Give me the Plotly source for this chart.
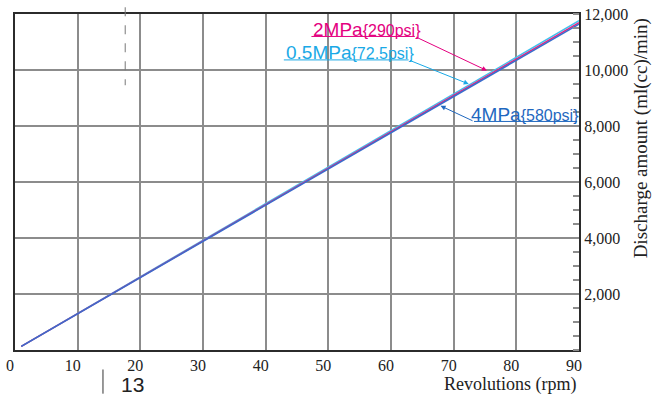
import plotly.graph_objects as go

# ---- data ----
rpm = [1, 90]
q_05mpa = [133, 11760]   # 0.5MPa{72.5psi}
q_2mpa = [130, 11690]    # 2MPa{290psi}
q_4mpa = [130, 11640]    # 4MPa{580psi}
x_ticks = [0, 10, 20, 30, 40, 50, 60, 70, 80, 90]
y_ticks = [2000, 4000, 6000, 8000, 10000, 12000]
y_ticktext = ["2,000", "4,000", "6,000", "8,000", "10,000", "12,000"]

C_CYAN = "#1aa9e6"
C_PINK = "#e4007f"
C_BLUE = "#1f68bf"
GRID = "#8c8c8c"
AXIS = "#2b2b2b"
SERIF = "Liberation Serif, Times New Roman, serif"
SANS = "Liberation Sans, Arial, sans-serif"

fig = go.Figure()
fig.add_trace(go.Scatter(x=rpm, y=q_05mpa, mode="lines", line=dict(color="#3fc0ee", width=1.5), showlegend=False))
fig.add_trace(go.Scatter(x=rpm, y=q_2mpa, mode="lines", line=dict(color="#e5237f", width=1.5), showlegend=False))
fig.add_trace(go.Scatter(x=rpm, y=q_4mpa, mode="lines", line=dict(color="#3a6ccc", width=1.6), showlegend=False))

fig.update_layout(
    width=653, height=395,
    margin=dict(l=9, r=74, t=6, b=45),
    paper_bgcolor="white", plot_bgcolor="white",
    xaxis=dict(range=[0, 90], tickvals=x_ticks, showgrid=True, gridcolor=GRID, gridwidth=2,
               showline=True, linecolor=AXIS, linewidth=2, mirror=True, zeroline=False,
               ticks="", ticklabelshift=-5, ticklabeloverflow="allow",
               tickfont=dict(family=SERIF, size=16, color="#222")),
    yaxis=dict(range=[0, 12000], side="right", tickvals=y_ticks, ticktext=y_ticktext,
               showgrid=True, gridcolor=GRID, gridwidth=2,
               showline=True, linecolor=AXIS, linewidth=2, mirror=True, zeroline=False,
               ticks="", ticklabeloverflow="allow",
               minor=dict(dtick=500, ticks="inside", ticklen=6, tickcolor=GRID, tickwidth=2, showgrid=False),
               tickfont=dict(family=SERIF, size=16, color="#222")),
)

# axis titles
fig.add_annotation(text="Discharge amount (ml(cc)/min)", xref="paper", yref="paper",
                   x=1.1106, y=0.631, xanchor="center", yanchor="middle", textangle=-90, showarrow=False,
                   font=dict(family=SERIF, size=19, color="#222"))
fig.add_annotation(text="Revolutions (rpm)", xref="paper", yref="paper",
                   x=1.0, y=-0.102, xanchor="right", yanchor="middle", showarrow=False,
                   font=dict(family=SERIF, size=18, color="#222"))

# series labels with underline + leader arrow
labels = [
    ("2MPa", "{290psi}", C_PINK, (47.3, 63.8), 11198, (75.3, 9980), "left"),
    ("0.5MPa", "{72.5psi}", C_CYAN, (42.9, 62.8), 10360, (72.4, 9500), "left"),
    ("4MPa", "{580psi}", C_BLUE, (73.25, 89.7), 8163, (67.9, 8720), "right"),
]
for big, small, col, (x0, x1), yu, (xh, yh), tail in labels:
    fig.add_shape(type="line", x0=x0, x1=x1, y0=yu, y1=yu, line=dict(color=col, width=1))
    fig.add_annotation(text=f"{big}<span style='font-size:16px'>{small}</span>",
                       x=x0 if tail == "left" else x0 - 0.8, y=yu, xanchor="left", yanchor="bottom",
                       yshift=-5.5, showarrow=False, font=dict(family=SANS, size=19, color=col))
    tx = x1 if tail == "left" else x0
    fig.add_annotation(text="", x=xh, y=yh, ax=tx, ay=yu, axref="x", ayref="y",
                       showarrow=True, arrowhead=2, arrowsize=1, arrowwidth=1, arrowcolor=col)

# page artefacts
fig.add_shape(type="line", xref="paper", yref="paper", x0=0.1954, x1=0.1954, y0=1.02, y1=0.788,
              line=dict(color="#777", width=1, dash="dash"))
fig.add_shape(type="line", xref="paper", yref="paper", x0=0.156, x1=0.156, y0=-0.058, y1=-0.13,
              line=dict(color="#333", width=1))
fig.add_annotation(text="13", xref="paper", yref="paper", x=0.185, y=-0.1017, xanchor="left",
                   yanchor="middle", showarrow=False, font=dict(family=SANS, size=21, color="#222"))

fig.write_html("out.html", config={"displayModeBar": False},
               post_script="document.body.style.margin='0px';document.body.style.overflow='hidden';")
